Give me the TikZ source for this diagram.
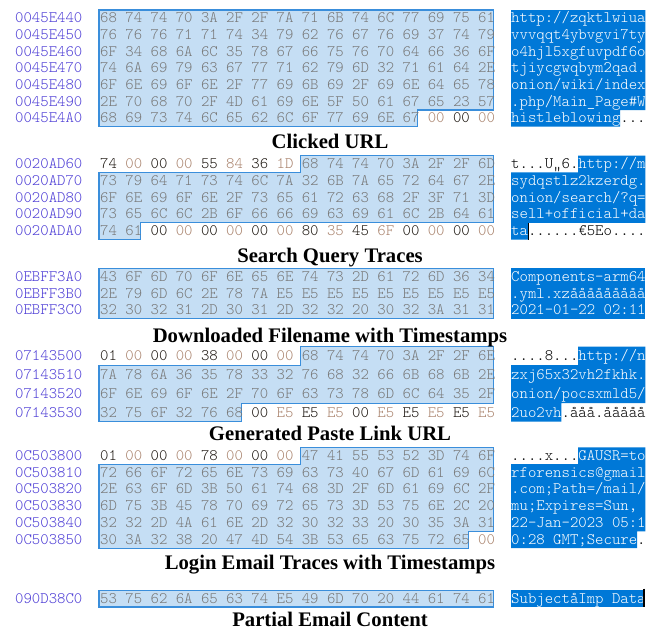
\documentclass[tikz,border=0pt]{standalone}
\usepackage{fontspec}
\setmainfont{Liberation Serif}
\newfontfamily\dumpfont{lmmonolt10-regular.otf}

\definecolor{addrblue}{RGB}{78,62,214}
\definecolor{selbyte}{RGB}{120,120,120}
\definecolor{evenbyte}{RGB}{30,24,18}
\definecolor{oddbyte}{RGB}{170,132,110}
\definecolor{selfill}{RGB}{197,222,244}
\definecolor{seledge}{RGB}{58,142,219}
\definecolor{ascblue}{RGB}{0,120,215}

\tikzset{
  addr/.style={anchor=base west, inner sep=0pt, font=\dumpfont\fontsize{16}{16}\selectfont, text=addrblue},
  hexb/.style={anchor=base west, inner sep=0pt, font=\dumpfont\fontsize{16}{16}\selectfont},
  asc/.style={anchor=base west, inner sep=0pt, font=\dumpfont\fontsize{16}{16}\selectfont, text=white},
  caption/.style={anchor=base, inner sep=0pt, font=\bfseries\fontsize{20.7}{22}\selectfont},
  hexsel/.style={fill=selfill, draw=seledge, line width=1.1pt, line join=miter},
  ascsel/.style={fill=ascblue},
  cursorbar/.style={draw=black, line width=1.6pt},
}

% one line of the dump: name, y centre, offset, first/last selected column, bytes
\newcommand\dumprow[6]{%
  \node[addr] (#1-a) at (15,#2+4.5) {#3};
  \foreach \b [count=\c from 0] in {#6}{%
    \ifnum\c<#4\relax
      \ifodd\c\relax\def\bc{oddbyte}\else\def\bc{evenbyte}\fi
    \else
      \ifnum\c>#5\relax
        \ifodd\c\relax\def\bc{oddbyte}\else\def\bc{evenbyte}\fi
      \else
        \def\bc{selbyte}%
      \fi
    \fi
    \node[hexb, text=\bc] (#1-\c) at (100+25.2*\c,#2+4.5) {\b};
  }%
}

\begin{document}
\begin{tikzpicture}[x=1pt,y=-1pt]
\useasboundingbox (0,0) rectangle (656,629);
\fill[white] (0,0) rectangle (656,629);

% ---------- selection backgrounds ----------
% clicked URL
\path[hexsel] (99,10) -- (493.5,10) -- (493.5,110) -- (417.9,110) -- (417.9,126.7) -- (99,126.7) -- cycle;
\path[ascsel] (511,10) -- (645.4,10) -- (645.4,110) -- (620.2,110) -- (620.2,126.7) -- (511,126.7) -- cycle;
% search query
\path[hexsel] (300.6,155.6) -- (493.5,155.6) -- (493.5,222.8) -- (140.7,222.8) -- (140.7,239.6) -- (99,239.6) -- (99,172.4) -- (300.6,172.4) -- cycle;
\path[ascsel] (578.2,155.6) -- (645.4,155.6) -- (645.4,222.8) -- (527.8,222.8) -- (527.8,239.6) -- (511,239.6) -- (511,172.4) -- (578.2,172.4) -- cycle;
% downloaded filename
\path[hexsel] (99,268.3) rectangle (493.5,318.7);
\path[ascsel] (511,268.3) rectangle (645.4,318.7);
% paste link
\path[hexsel] (300.6,346.5) -- (493.5,346.5) -- (493.5,403.2) -- (241.5,403.2) -- (241.5,421.7) -- (99,421.7) -- (99,365.2) -- (300.6,365.2) -- cycle;
\path[ascsel] (578.2,346.5) -- (645.4,346.5) -- (645.4,403.2) -- (561.4,403.2) -- (561.4,421.7) -- (511,421.7) -- (511,365.2) -- (578.2,365.2) -- cycle;
% login email
\path[hexsel] (300.6,447.3) -- (493.5,447.3) -- (493.5,531.3) -- (468.3,531.3) -- (468.3,548.1) -- (99,548.1) -- (99,464.1) -- (300.6,464.1) -- cycle;
\path[ascsel] (578.2,447.3) -- (645.4,447.3) -- (645.4,531.3) -- (637,531.3) -- (637,548.1) -- (511,548.1) -- (511,464.1) -- (578.2,464.1) -- cycle;
% partial email
\path[hexsel] (99,590.5) rectangle (493.5,607);
\path[ascsel] (511,590) rectangle (643.5,607);

% ---------- Clicked URL ----------
\dumprow{ra0}{18.3}{0045E440}{0}{15}{68,74,74,70,3A,2F,2F,7A,71,6B,74,6C,77,69,75,61}
\dumprow{ra1}{35}{0045E450}{0}{15}{76,76,76,71,71,74,34,79,62,76,67,76,69,37,74,79}
\dumprow{ra2}{51.7}{0045E460}{0}{15}{6F,34,68,6A,6C,35,78,67,66,75,76,70,64,66,36,6F}
\dumprow{ra3}{68.3}{0045E470}{0}{15}{74,6A,69,79,63,67,77,71,62,79,6D,32,71,61,64,2E}
\dumprow{ra4}{85}{0045E480}{0}{15}{6F,6E,69,6F,6E,2F,77,69,6B,69,2F,69,6E,64,65,78}
\dumprow{ra5}{101.7}{0045E490}{0}{15}{2E,70,68,70,2F,4D,61,69,6E,5F,50,61,67,65,23,57}
\dumprow{ra6}{118.3}{0045E4A0}{0}{12}{68,69,73,74,6C,65,62,6C,6F,77,69,6E,67,00,00,00}
\node[asc] (sa0) at (511,22.8) {http://zqktlwiua};
\node[asc] (sa1) at (511,39.5) {vvvqqt4ybvgvi7ty};
\node[asc] (sa2) at (511,56.2) {o4hjl5xgfuvpdf6o};
\node[asc] (sa3) at (511,72.8) {tjiycgwqbym2qad.};
\node[asc] (sa4) at (511,89.5) {onion/wiki/index};
\node[asc] (sa5) at (511,106.2) {.php/Main\_Page\#W};
\node[asc] (sa6) at (511,122.8) {histleblowing\textcolor{black}{...}};
\node[caption] (ta) at (330,148) {Clicked URL};

% ---------- Search Query Traces ----------
\dumprow{rb0}{164}{0020AD60}{8}{15}{74,00,00,00,55,84,36,1D,68,74,74,70,3A,2F,2F,6D}
\dumprow{rb1}{180.8}{0020AD70}{0}{15}{73,79,64,71,73,74,6C,7A,32,6B,7A,65,72,64,67,2E}
\dumprow{rb2}{197.6}{0020AD80}{0}{15}{6F,6E,69,6F,6E,2F,73,65,61,72,63,68,2F,3F,71,3D}
\dumprow{rb3}{214.4}{0020AD90}{0}{15}{73,65,6C,6C,2B,6F,66,66,69,63,69,61,6C,2B,64,61}
\dumprow{rb4}{231.2}{0020ADA0}{0}{1}{74,61,00,00,00,00,00,00,80,35,45,6F,00,00,00,00}
\node[asc] (sb0) at (511,168.5) {\textcolor{black}{t...U„6.}http://m};
\node[asc] (sb1) at (511,185.3) {sydqstlz2kzerdg.};
\node[asc] (sb2) at (511,202.1) {onion/search/?q=};
\node[asc] (sb3) at (511,218.9) {sell+official+da};
\node[asc] (sb4) at (511,235.7) {ta\textcolor{black}{......€5Eo....}};
\coordinate (cb1) at (528.4,223);
\coordinate (cb2) at (528.4,239.6);
\draw[cursorbar] (cb1) -- (cb2);
\node[caption] (tb) at (330,262) {Search Query Traces};

% ---------- Downloaded Filename ----------
\dumprow{rc0}{276.7}{0EBFF3A0}{0}{15}{43,6F,6D,70,6F,6E,65,6E,74,73,2D,61,72,6D,36,34}
\dumprow{rc1}{293.5}{0EBFF3B0}{0}{15}{2E,79,6D,6C,2E,78,7A,E5,E5,E5,E5,E5,E5,E5,E5,E5}
\dumprow{rc2}{310.3}{0EBFF3C0}{0}{15}{32,30,32,31,2D,30,31,2D,32,32,20,30,32,3A,31,31}
\node[asc] (sc0) at (511,281.2) {Components-arm64};
\node[asc] (sc1) at (511,298) {.yml.xzååååååååå};
\node[asc] (sc2) at (511,314.8) {2021-01-22 02:11};
\node[caption] (tc) at (330,342) {Downloaded Filename with Timestamps};

% ---------- Generated Paste Link URL ----------
\dumprow{rd0}{355.7}{07143500}{8}{15}{01,00,00,00,38,00,00,00,68,74,74,70,3A,2F,2F,6E}
\dumprow{rd1}{374.7}{07143510}{0}{15}{7A,78,6A,36,35,78,33,32,76,68,32,66,6B,68,6B,2E}
\dumprow{rd2}{393.7}{07143520}{0}{15}{6F,6E,69,6F,6E,2F,70,6F,63,73,78,6D,6C,64,35,2F}
\dumprow{rd3}{412.7}{07143530}{0}{5}{32,75,6F,32,76,68,00,E5,E5,E5,00,E5,E5,E5,E5,E5}
\node[asc] (sd0) at (511,360.2) {\textcolor{black}{....8...}http://n};
\node[asc] (sd1) at (511,379.2) {zxj65x32vh2fkhk.};
\node[asc] (sd2) at (511,398.2) {onion/pocsxmld5/};
\node[asc] (sd3) at (511,417.2) {2uo2vh\textcolor{black}{.ååå.ååååå}};
\node[caption] (td) at (330,440) {Generated Paste Link URL};

% ---------- Login Email Traces ----------
\dumprow{re0}{455.7}{0C503800}{8}{15}{01,00,00,00,78,00,00,00,47,41,55,53,52,3D,74,6F}
\dumprow{re1}{472.5}{0C503810}{0}{15}{72,66,6F,72,65,6E,73,69,63,73,40,67,6D,61,69,6C}
\dumprow{re2}{489.3}{0C503820}{0}{15}{2E,63,6F,6D,3B,50,61,74,68,3D,2F,6D,61,69,6C,2F}
\dumprow{re3}{506.1}{0C503830}{0}{15}{6D,75,3B,45,78,70,69,72,65,73,3D,53,75,6E,2C,20}
\dumprow{re4}{522.9}{0C503840}{0}{15}{32,32,2D,4A,61,6E,2D,32,30,32,33,20,30,35,3A,31}
\dumprow{re5}{539.7}{0C503850}{0}{14}{30,3A,32,38,20,47,4D,54,3B,53,65,63,75,72,65,00}
\node[asc] (se0) at (511,460.2) {\textcolor{black}{....x...}GAUSR=to};
\node[asc] (se1) at (511,477) {rforensics@gmail};
\node[asc] (se2) at (511,493.8) {.com;Path=/mail/};
\node[asc] (se3) at (511,510.6) {mu;Expires=Sun,};
\node[asc] (se4) at (511,527.4) {22-Jan-2023 05:1};
\node[asc] (se5) at (511,544.2) {0:28 GMT;Secure\textcolor{black}{.}};
\node[caption] (te) at (330,569) {Login Email Traces with Timestamps};

% ---------- Partial Email Content ----------
\dumprow{rf0}{598.7}{090D38C0}{0}{15}{53,75,62,6A,65,63,74,E5,49,6D,70,20,44,61,74,61}
\node[asc] (sf0) at (511,603.2) {SubjectåImp Data};
\coordinate (cf1) at (644.2,588.5);
\coordinate (cf2) at (644.2,607);
\draw[cursorbar] (cf1) -- (cf2);
\node[caption] (tf) at (330,626) {Partial Email Content};

\end{tikzpicture}
\end{document}
